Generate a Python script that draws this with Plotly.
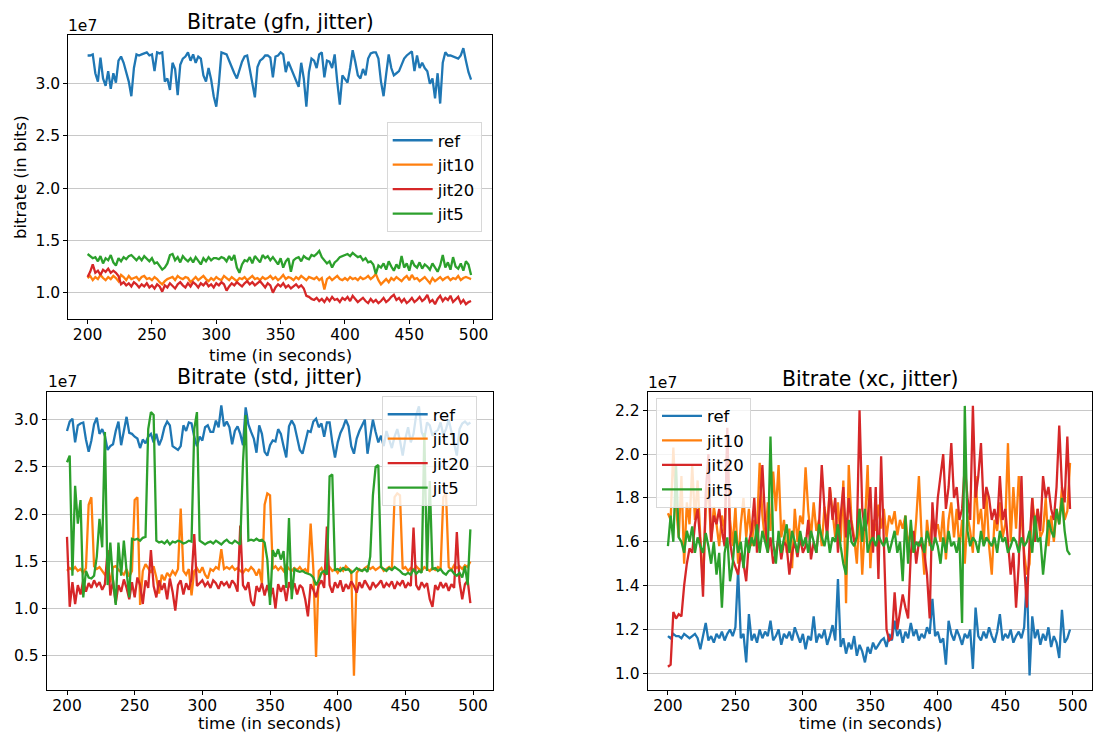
import plotly.graph_objects as go

# Sampling instants (seconds)
TIME = list(range(200, 500, 2))

# Bitrate series, in units of 1e7 bits
gfn_ref = [
    3.27, 3.27, 3.28, 3.10, 3.02, 3.25, 3.05, 2.98, 3.12, 2.95,
    3.10, 3.01, 3.22, 3.26, 3.20, 3.12, 3.02, 2.88, 3.15, 3.28,
    3.27, 3.28, 3.29, 3.30, 3.27, 3.28, 3.12, 3.30, 3.29, 3.30,
    3.02, 3.05, 2.94, 3.20, 3.14, 2.89, 3.18, 3.24, 3.26, 3.30,
    3.22, 3.28, 3.20, 3.26, 3.24, 3.08, 3.02, 3.15, 3.04, 2.88,
    2.78, 3.00, 3.30, 3.29, 3.28, 3.22, 3.15, 3.10, 3.05, 3.14,
    3.21, 3.26, 3.27, 3.14, 3.00, 2.87, 3.16, 3.22, 3.24, 3.27,
    3.27, 3.25, 3.06, 3.26, 3.27, 3.30, 3.28, 3.11, 3.21, 3.15,
    3.10, 3.04, 2.97, 3.20, 3.05, 2.78, 3.11, 3.24, 3.22, 3.15,
    3.28, 3.30, 3.06, 3.22, 3.21, 3.15, 3.28, 3.02, 2.80, 3.08,
    3.05, 3.01, 3.15, 3.32, 3.21, 3.08, 3.05, 3.14, 3.08, 3.24,
    3.29, 3.30, 3.30, 3.24, 3.02, 2.88, 3.09, 3.28, 3.15, 3.08,
    3.10, 3.12, 3.18, 3.24, 3.27, 3.29, 3.31, 3.12, 3.27, 3.15,
    3.20, 3.15, 3.12, 3.00, 3.05, 2.86, 3.10, 2.81, 3.20, 3.30,
    3.27, 3.27, 3.26, 3.25, 3.24, 3.27, 3.34, 3.22, 3.11, 3.04,
]
gfn_jit10 = [
    1.14, 1.16, 1.12, 1.15, 1.13, 1.17, 1.14, 1.12, 1.15, 1.13,
    1.16, 1.14, 1.11, 1.17, 1.15, 1.12, 1.16, 1.13, 1.14, 1.15,
    1.12, 1.15, 1.16, 1.13, 1.14, 1.12, 1.15, 1.13, 1.10, 1.08,
    1.11, 1.13, 1.14, 1.15, 1.12, 1.16, 1.14, 1.13, 1.15, 1.14,
    1.10, 1.13, 1.15, 1.12, 1.14, 1.16, 1.13, 1.11, 1.14, 1.12,
    1.15, 1.13, 1.12, 1.16, 1.14, 1.12, 1.15, 1.13, 1.11, 1.14,
    1.13, 1.15, 1.12, 1.14, 1.16, 1.13, 1.14, 1.12, 1.15, 1.13,
    1.14, 1.16, 1.13, 1.15, 1.12, 1.14, 1.17, 1.13, 1.15, 1.14,
    1.12, 1.15, 1.13, 1.16, 1.14, 1.12, 1.15, 1.14, 1.13, 1.15,
    1.12, 1.14, 1.03, 1.13, 1.15, 1.12, 1.14, 1.16, 1.13, 1.12,
    1.14, 1.12, 1.15, 1.13, 1.14, 1.12, 1.15, 1.13, 1.14, 1.16,
    1.13, 1.15, 1.18, 1.12, 1.08, 1.11, 1.13, 1.10, 1.14, 1.12,
    1.15, 1.13, 1.11, 1.14, 1.16, 1.12, 1.17, 1.13, 1.14, 1.11,
    1.13, 1.15, 1.12, 1.09, 1.14, 1.11, 1.13, 1.15, 1.12, 1.14,
    1.15, 1.12, 1.14, 1.13, 1.16, 1.12, 1.14, 1.15, 1.14, 1.13,
]
gfn_jit20 = [
    1.15, 1.20, 1.27, 1.19, 1.21, 1.17, 1.22, 1.20, 1.23, 1.19,
    1.21, 1.19, 1.16, 1.08, 1.10, 1.07, 1.09, 1.06, 1.10, 1.08,
    1.05, 1.08, 1.06, 1.09, 1.05, 1.07, 1.04, 1.08, 1.06, 1.01,
    1.07, 1.05, 1.09, 1.06, 1.04, 1.08, 1.10, 1.07, 1.05, 1.09,
    1.06, 1.10, 1.08, 1.05, 1.09, 1.07, 1.10, 1.06, 1.08, 1.05,
    1.09, 1.07, 1.10, 1.08, 1.02, 1.06, 1.09, 1.07, 1.10, 1.08,
    1.06, 1.09, 1.11, 1.08, 1.10, 1.07, 1.09, 1.11, 1.08, 1.05,
    1.09, 1.07, 1.00, 1.05, 1.08, 1.06, 1.09, 1.05, 1.07, 1.04,
    1.06, 1.08, 1.05, 1.07, 1.04, 0.97, 0.96, 0.94, 0.93, 0.95,
    0.92, 0.94, 0.91, 0.95, 0.92, 0.96, 0.93, 0.94, 0.91, 0.95,
    0.93, 0.96, 0.92, 0.97, 0.94, 0.91, 0.93, 0.95, 0.92, 0.90,
    0.94, 0.91, 0.93, 0.90, 0.92, 0.95, 0.91, 0.93, 0.96, 0.98,
    0.93, 0.95, 0.91, 0.94, 0.90, 0.92, 0.95, 0.91, 0.93, 0.96,
    0.92, 0.94, 0.98, 0.91, 0.93, 0.89, 0.94, 0.97, 0.92, 0.95,
    0.93, 0.97, 0.91, 0.94, 0.96, 0.90, 0.93, 0.89, 0.91, 0.92,
]
gfn_jit5 = [
    1.37, 1.35, 1.33, 1.34, 1.30, 1.35, 1.28, 1.33, 1.31, 1.36,
    1.29, 1.26, 1.33, 1.30, 1.34, 1.32, 1.35, 1.36, 1.33, 1.31,
    1.34, 1.31, 1.35, 1.32, 1.30, 1.33, 1.28, 1.29, 1.25, 1.22,
    1.24, 1.28, 1.36, 1.37, 1.31, 1.34, 1.29, 1.35, 1.32, 1.30,
    1.33, 1.29, 1.34, 1.31, 1.27, 1.33, 1.30, 1.34, 1.31, 1.33,
    1.33, 1.32, 1.34, 1.33, 1.30, 1.35, 1.31, 1.36, 1.24, 1.19,
    1.27, 1.31, 1.30, 1.34, 1.28, 1.35, 1.32, 1.29, 1.36, 1.33,
    1.35, 1.31, 1.34, 1.30, 1.27, 1.33, 1.24, 1.30, 1.33, 1.20,
    1.31, 1.33, 1.34, 1.30, 1.35, 1.33, 1.32, 1.36, 1.35, 1.37,
    1.40, 1.34, 1.31, 1.28, 1.30, 1.24, 1.29, 1.31, 1.34, 1.35,
    1.36, 1.37, 1.35, 1.38, 1.36, 1.34, 1.35, 1.31, 1.33, 1.29,
    1.30, 1.27, 1.18, 1.26, 1.24, 1.28, 1.22, 1.30, 1.25, 1.21,
    1.27, 1.23, 1.35, 1.24, 1.28, 1.21, 1.31, 1.26, 1.24, 1.29,
    1.23, 1.27, 1.25, 1.22, 1.28, 1.24, 1.20, 1.26, 1.36, 1.24,
    1.29, 1.22, 1.34, 1.25, 1.23, 1.28, 1.21, 1.30, 1.27, 1.17,
]

std_ref = [
    2.88, 2.98, 3.01, 2.76, 2.94, 2.96, 2.97, 2.79, 2.66, 2.78,
    2.95, 3.02, 2.85, 2.90, 2.83, 2.68, 2.72, 2.74, 2.88, 2.98,
    2.73, 2.90, 3.03, 2.86, 2.85, 2.82, 2.80, 2.70, 2.79, 2.75,
    2.82, 2.85, 2.76, 2.85, 2.73, 2.80, 2.92, 2.98, 2.94, 2.72,
    2.70, 2.68, 2.72, 2.94, 2.88, 2.97, 2.96, 2.82, 2.72, 2.82,
    2.78, 2.92, 2.94, 2.87, 2.87, 2.99, 2.92, 3.15, 2.93, 2.98,
    2.92, 2.74, 2.88, 2.93, 2.85, 2.73, 3.13, 2.95, 2.87, 2.80,
    2.65, 2.94, 2.85, 2.66, 2.62, 2.73, 2.78, 2.77, 2.90, 2.85,
    2.72, 2.60, 2.93, 2.99, 2.94, 2.80, 2.68, 2.64, 2.77, 2.88,
    2.87, 2.98, 3.01, 2.92, 2.96, 2.82, 2.97, 2.97, 2.76, 2.60,
    2.76, 2.86, 2.92, 3.00, 2.93, 2.72, 2.64, 2.80, 2.88, 2.95,
    3.00, 2.64, 2.84, 3.00, 2.87, 2.76, 2.83, 2.72, 2.88, 2.80,
    2.70, 2.82, 2.90, 2.78, 2.62, 2.80, 2.92, 2.76, 2.85, 3.05,
    3.14, 2.87, 2.80, 2.97, 2.94, 2.83, 2.87, 2.89, 2.97, 2.84,
    2.90, 3.00, 2.88, 2.75, 2.62, 2.90, 2.96, 2.98, 2.95, 2.97,
]
std_jit10 = [
    1.40, 1.43, 1.41, 1.44, 1.40, 1.42, 1.38, 1.43, 2.10, 2.18,
    1.45, 1.42, 1.44, 1.40, 1.36, 1.42, 1.28, 1.44, 1.45, 1.41,
    1.38, 1.36, 1.42, 1.34, 1.40, 2.15, 2.18, 1.04, 1.40, 1.47,
    1.43, 1.38, 1.45, 1.33, 1.16, 1.36, 1.30, 1.38, 1.34, 1.40,
    1.36, 1.42, 2.06, 1.40, 1.36, 1.42, 1.14, 1.40, 1.43, 1.38,
    1.44, 1.36, 1.32, 1.42, 1.40, 1.44, 1.42, 1.63, 1.42, 1.44,
    1.42, 1.45, 1.41, 1.43, 1.40, 1.38, 1.42, 1.40, 1.44, 1.41,
    1.35, 1.42, 1.27, 2.10, 2.22, 2.20, 1.42, 1.45, 1.41, 1.44,
    1.40, 1.46, 1.42, 1.40, 1.43, 1.41, 1.44, 1.40, 1.42, 1.38,
    1.90, 1.42, 0.49, 1.40, 1.43, 1.36, 1.41, 1.44, 1.40, 1.42,
    1.38, 1.43, 1.40, 1.45, 1.42, 1.40, 0.29, 1.38, 1.42, 1.40,
    1.43, 1.45, 1.42, 1.44, 1.41, 1.43, 1.45, 1.40, 1.42, 1.44,
    1.41, 2.18, 2.22, 2.20, 1.42, 1.44, 1.40, 1.43, 1.41, 1.45,
    1.42, 1.40, 1.44, 1.42, 1.40, 1.43, 1.41, 1.44, 1.42, 2.18,
    2.22, 1.44, 1.41, 1.46, 1.43, 1.45, 1.42, 1.46, 1.44, 1.50,
]
std_jit20 = [
    1.76, 1.02, 1.28, 1.05, 1.25, 1.15, 1.30, 1.18, 1.27, 1.22,
    1.30, 1.24, 1.28, 1.20, 1.26, 1.62, 1.14, 1.30, 1.06, 1.25,
    1.18, 1.31, 1.22, 1.10, 1.28, 1.12, 1.33, 1.25, 1.05, 1.30,
    1.22, 1.62, 1.24, 1.12, 1.30, 1.20, 1.27, 1.10, 1.32, 1.18,
    0.98, 1.25, 1.30, 1.15, 1.27, 1.20, 1.32, 1.79, 1.24, 1.27,
    1.30, 1.24, 1.28, 1.22, 1.30, 1.27, 1.21, 1.29, 1.25, 1.28,
    1.22, 1.30, 1.26, 1.18, 1.88, 1.25, 1.20, 1.28, 1.08, 1.03,
    1.24, 1.18, 1.27, 1.14, 1.25, 1.12, 1.22, 1.00, 1.26, 1.18,
    1.25, 1.08, 1.28, 1.20, 1.27, 1.15, 1.25, 1.22, 1.10, 0.92,
    1.26, 1.20, 1.12, 1.25, 1.30, 1.22, 1.87, 1.25, 1.17, 1.28,
    1.22, 1.30, 1.18, 1.26, 1.21, 1.29, 1.24, 1.17, 1.28, 1.22,
    1.30, 1.25, 1.20, 1.28, 1.23, 1.26, 1.30, 1.22, 1.27, 1.24,
    1.29, 1.21, 1.28, 1.25, 1.30, 1.22, 1.27, 1.24, 1.86, 1.25,
    1.20, 1.28, 1.23, 1.27, 1.10, 1.02, 1.25, 1.20, 1.28, 1.22,
    1.27, 1.19, 1.26, 1.22, 1.81, 1.28, 1.10, 1.26, 1.30, 1.06,
]
std_jit5 = [
    2.55, 2.62, 1.35, 2.30, 1.90, 2.15, 1.12, 1.40, 1.33, 1.32,
    1.35, 1.55, 1.95, 1.65, 2.87, 1.25, 1.70, 1.30, 1.04, 1.70,
    1.35, 1.72, 1.40, 1.12, 1.74, 1.73, 1.74, 1.72, 1.75, 1.76,
    2.90, 3.08, 3.05, 1.72, 1.70, 1.71, 1.69, 1.72, 1.68, 1.71,
    1.70, 1.72, 1.71, 1.69, 1.70, 1.72, 1.71, 2.90, 3.08, 1.72,
    1.70, 1.68, 1.70, 1.71, 1.69, 1.72, 1.70, 1.68, 1.71, 1.73,
    1.70, 1.69, 1.72, 1.70, 1.68, 2.55, 3.05, 1.72, 1.73, 1.72,
    1.74, 1.72, 1.73, 1.70, 1.52, 1.04, 1.62, 1.55, 1.63, 1.52,
    1.61, 1.22, 1.96, 1.10, 1.42, 1.40, 1.39, 1.40, 1.38, 1.37,
    1.36, 1.33, 1.25, 1.30, 1.38, 1.40, 1.36, 2.40, 2.42, 1.41,
    1.42, 1.40, 1.43, 1.41, 1.42, 1.38, 1.40, 1.43, 1.41, 1.40,
    1.42, 1.39, 1.55, 2.20, 2.50, 2.52, 1.44, 1.42, 1.40, 1.43,
    1.41, 1.44, 1.42, 1.40, 1.37, 1.36, 1.38, 1.36, 1.42, 1.37,
    1.40, 1.38, 2.86, 1.40, 2.35, 1.42, 1.43, 1.40, 1.42, 1.38,
    1.36, 1.40, 1.41, 1.37, 1.35, 1.38, 1.33, 1.45, 1.25, 1.84,
]

xc_ref = [
    1.17, 1.16, 1.18, 1.17, 1.17, 1.16, 1.18, 1.17, 1.16, 1.17,
    1.18, 1.16, 1.11, 1.17, 1.23, 1.15, 1.17, 1.14, 1.18, 1.16,
    1.19, 1.15, 1.18, 1.20, 1.17, 1.21, 1.47, 1.16, 1.18, 1.05,
    1.27, 1.15, 1.18, 1.14, 1.20, 1.16, 1.19, 1.17, 1.24, 1.15,
    1.17, 1.20, 1.13, 1.18, 1.16, 1.19, 1.15, 1.21, 1.17, 1.14,
    1.18, 1.11, 1.17, 1.15, 1.26, 1.14, 1.18, 1.16, 1.20, 1.13,
    1.17, 1.22, 1.15, 1.43, 1.12, 1.16, 1.09, 1.14, 1.11, 1.17,
    1.08, 1.13, 1.10, 1.05, 1.12, 1.09, 1.14, 1.11, 1.13, 1.15,
    1.16, 1.12, 1.18, 1.15, 1.24, 1.17, 1.20, 1.14, 1.19, 1.16,
    1.23, 1.17, 1.20, 1.15, 1.18, 1.16, 1.21, 1.18, 1.34, 1.17,
    1.19, 1.14, 1.16, 1.04, 1.24, 1.18, 1.15, 1.20, 1.17, 1.13,
    1.18, 1.16, 1.20, 1.02, 1.30, 1.17, 1.15, 1.19, 1.16, 1.21,
    1.17, 1.14, 1.19, 1.27, 1.15, 1.18, 1.16, 1.20, 1.14, 1.17,
    1.19, 1.16, 1.21, 1.44, 0.99, 1.26, 1.16, 1.20, 1.13, 1.18,
    1.15, 1.21, 1.12, 1.17, 1.14, 1.07, 1.29, 1.14, 1.16, 1.20,
]
xc_jit10 = [
    1.73, 1.70, 2.03, 1.76, 1.62, 1.90, 1.50, 1.78, 1.68, 1.95,
    1.70, 1.88, 1.62, 1.40, 1.75, 1.85, 1.60, 1.76, 1.68, 1.58,
    1.72, 1.64, 2.05, 1.70, 1.58, 1.76, 1.50, 1.68, 1.80, 1.62,
    1.75, 1.58, 1.70, 1.66, 1.96, 1.72, 1.60, 1.78, 1.65, 1.92,
    1.74, 1.95, 1.62, 1.70, 1.55, 1.66, 1.48, 1.75, 1.60, 1.72,
    1.68, 1.94, 1.74, 1.62, 1.78, 1.65, 1.70, 1.58, 1.76, 1.67,
    1.85, 1.72, 1.62, 1.78, 1.60, 1.88, 1.32, 1.95, 1.70, 1.62,
    1.50, 1.75, 1.45, 1.68, 1.95, 1.48, 1.70, 1.65, 1.77, 1.66,
    1.75, 1.62, 1.72, 1.68, 1.74, 1.63, 1.70, 1.66, 1.72, 1.58,
    1.65, 1.55, 1.70, 1.90, 1.62, 1.45, 1.70, 1.58, 1.72, 1.65,
    1.68, 1.60, 1.74, 1.52, 1.70, 1.78, 1.62, 1.75, 1.56, 1.70,
    1.50, 1.72, 1.65, 1.55, 1.90, 1.68, 1.75, 1.60, 1.82, 1.58,
    1.45, 1.70, 1.65, 1.78, 1.62, 1.68, 2.05, 1.60, 1.85, 1.66,
    1.90, 1.72, 1.55, 1.45, 1.50, 1.80, 1.68, 1.75, 1.62, 1.65,
    1.80, 1.58, 1.72, 1.60, 1.75, 1.68, 1.85, 1.70, 1.74, 1.96,
]
xc_jit20 = [
    1.03, 1.04, 1.28, 1.25, 1.27, 1.26, 1.40, 1.50, 1.57, 1.55,
    1.68, 1.75, 1.60, 1.35, 1.82, 2.00, 1.60, 1.72, 1.68, 1.75,
    1.65, 1.58, 2.12, 1.60, 1.52, 1.48, 1.45, 1.55, 1.50, 1.42,
    1.60, 1.65, 1.80, 1.55, 1.75, 1.95, 1.70, 1.55, 1.62, 1.50,
    1.55, 1.62, 1.52, 1.60, 1.58, 1.45, 1.55, 1.60, 1.53, 1.62,
    1.55, 1.58, 1.70, 1.52, 1.60, 1.55, 1.68, 1.95, 1.75, 1.62,
    1.85, 1.70, 1.80, 1.55, 1.72, 1.85, 1.62, 1.80, 1.68, 1.60,
    1.62, 2.20, 1.75, 1.65, 1.70, 1.85, 1.55, 1.85, 1.43, 1.99,
    1.60, 1.20, 1.15, 1.16, 1.37, 1.20, 1.28, 1.36, 1.30, 1.25,
    1.55, 1.65, 1.50, 1.60, 1.58, 1.55, 1.45, 1.25, 1.78, 1.60,
    1.80, 1.90, 2.00, 1.75, 1.85, 2.05, 1.80, 1.85, 1.70, 1.75,
    1.95, 1.80, 1.70, 2.22, 1.80, 1.90, 2.05, 1.75, 1.85, 1.80,
    1.70, 1.75, 1.68, 1.90, 1.70, 1.75, 1.60, 1.45, 1.55, 1.30,
    1.50, 1.90, 1.50, 1.30, 1.60, 1.80, 1.60, 1.75, 1.65, 1.90,
    1.80, 1.85, 1.75, 1.70, 1.85, 2.13, 1.85, 1.78, 2.08, 1.75,
]
xc_jit5 = [
    1.58, 1.72, 1.60, 1.95, 1.62, 1.60, 1.55, 1.65, 1.60, 1.67,
    1.55, 1.62, 1.58, 1.55, 1.64, 1.58, 1.50, 1.60, 1.45, 1.55,
    1.30, 1.55, 1.62, 1.42, 1.50, 1.65, 1.55, 1.60, 1.48, 1.62,
    1.55, 1.62, 1.58, 1.68, 1.55, 1.65, 1.60, 1.55, 2.08, 1.60,
    1.50, 1.65, 1.55, 1.62, 1.68, 1.55, 1.65, 1.60, 1.55, 1.65,
    1.58, 1.62, 1.55, 1.65, 1.60, 1.55, 1.68, 1.62, 1.58, 1.65,
    1.55, 1.62, 1.60, 1.68, 1.58, 1.50, 1.45, 1.70, 1.60, 1.58,
    1.62, 1.75, 1.60, 1.75, 1.55, 1.60, 1.62, 1.58, 1.63, 1.60,
    1.58, 1.62, 1.55, 1.60, 1.65, 1.55, 1.60, 1.42, 1.72, 1.50,
    1.70, 1.55, 1.60, 1.58, 1.62, 1.55, 1.65, 1.60, 1.56, 1.62,
    1.58, 1.50, 1.62, 1.55, 1.65, 1.58, 1.60, 1.55, 1.62, 1.23,
    2.22, 1.65, 1.58, 1.62, 1.60, 1.55, 1.65, 1.58, 1.62, 1.60,
    1.58, 1.62, 1.55, 1.65, 1.60, 1.62, 1.55, 1.58, 1.62, 1.60,
    1.55, 1.62, 1.58, 1.60, 1.65, 1.55, 1.72, 1.60, 1.62, 1.45,
    1.58, 1.70, 1.65, 1.62, 1.75, 1.68, 1.80, 1.65, 1.56, 1.54,
]

SERIES_NAMES = ["ref", "jit10", "jit20", "jit5"]
COLORS = ["#1f77b4", "#ff7f0e", "#d62728", "#2ca02c"]
X_TICKS = [200, 250, 300, 350, 400, 450, 500]

panels = [
    # (axis suffix, legend id, series, y range, y tick step)
    ("", "legend", [gfn_ref, gfn_jit10, gfn_jit20, gfn_jit5], [0.748, 3.466], 0.5),
    ("2", "legend2", [std_ref, std_jit10, std_jit20, std_jit5], [0.140, 3.296], 0.5),
    ("3", "legend3", [xc_ref, xc_jit10, xc_jit20, xc_jit5], [0.924, 2.282], 0.2),
]

FONT = "DejaVu Sans"
fig = go.Figure()

for suffix, legend_id, series, yrange, ystep in panels:
    for name, color, values in zip(SERIES_NAMES, COLORS, series):
        fig.add_trace(go.Scatter(
            x=TIME, y=values, name=name, mode="lines",
            line=dict(color=color, width=2.3),
            xaxis="x" + suffix, yaxis="y" + suffix,
            legend=legend_id,
        ))

W, H = 1094, 735


def xd(a, b):
    return [a / W, b / W]


def yd(top, bottom):
    return [1 - bottom / H, 1 - top / H]


axis_common = dict(
    showline=True, mirror=True, linecolor="black", linewidth=1,
    ticks="outside", ticklen=4, tickwidth=1, tickcolor="black",
    zeroline=False, tickfont=dict(family=FONT, size=15.5, color="black"),
)

domains = {
    "": (xd(68.3, 492.3), yd(35, 319)),
    "2": (xd(46.7, 492.7), yd(391.7, 690)),
    "3": (xd(647.7, 1092.3), yd(392.3, 690)),
}

layout = dict(
    width=W, height=H, autosize=False,
    margin=dict(l=0, r=0, t=0, b=0),
    paper_bgcolor="white", plot_bgcolor="white",
    font=dict(family=FONT, color="black"),
)

for suffix, legend_id, series, yrange, ystep in panels:
    xdom, ydom = domains[suffix]
    layout["xaxis" + suffix] = dict(
        axis_common, domain=xdom, range=[185, 514.5],
        tickvals=X_TICKS, showgrid=False, anchor="y" + suffix,
        ticklabelstandoff=-3,
    )
    layout["yaxis" + suffix] = dict(
        axis_common, domain=ydom, range=yrange, dtick=ystep, tick0=0,
        tickformat=".1f", showgrid=True, gridcolor="#c8c8c8", gridwidth=1,
        anchor="x" + suffix,
    )

legend_style = dict(
    bgcolor="rgba(255,255,255,0.8)", bordercolor="#d8d8d8", borderwidth=1,
    font=dict(family=FONT, size=16.5, color="black"),
    xanchor="left", yanchor="top", tracegroupgap=0, itemwidth=40,
)
layout["legend"] = dict(legend_style, x=386.7 / W, y=1 - 122 / H)
layout["legend2"] = dict(legend_style, x=381.7 / W, y=1 - 396 / H)
layout["legend3"] = dict(legend_style, x=656 / W, y=1 - 397.7 / H)

fig.update_layout(**layout)


def note(text, x, y, size, xanchor="center", yanchor="middle", angle=0):
    fig.add_annotation(
        text=text, x=x / W, y=1 - y / H, xref="paper", yref="paper",
        showarrow=False, xanchor=xanchor, yanchor=yanchor, textangle=angle,
        font=dict(family=FONT, size=size, color="black"),
    )


# Titles
note("Bitrate (gfn, jitter)", 280.3, 22, 20.5)
note("Bitrate (std, jitter)", 269.7, 377, 20.5)
note("Bitrate (xc, jitter)", 870, 378.5, 20.5)
# Axis titles
note("time (in seconds)", 280.3, 355, 16.5)
note("time (in seconds)", 269.7, 723.5, 16.5)
note("time (in seconds)", 870, 723.5, 16.5)
note("bitrate (in bits)", 20, 177, 16.5, angle=-90)
# Offset labels
note("1e7", 66, 26.5, 15.5, xanchor="left")
note("1e7", 45.5, 382, 15.5, xanchor="left")
note("1e7", 646, 383, 15.5, xanchor="left")

fig.write_html("out.html")
